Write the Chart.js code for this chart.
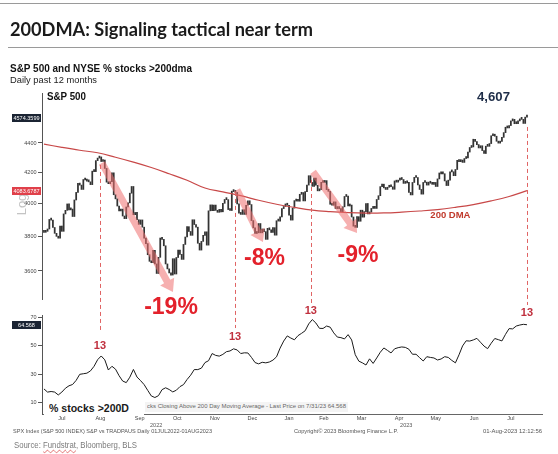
<!DOCTYPE html>
<html>
<head>
<meta charset="utf-8">
<script src="https://cdn.jsdelivr.net/npm/chart.js@4.4.0/dist/chart.umd.min.js"></script>
<style>
body { margin: 0; background: #fff; }
#wrap { position: relative; width: 558px; height: 454px; overflow: hidden; font-family: "Liberation Sans", Arial, sans-serif; }
#wrap canvas { position: absolute; left: 0; top: 0; }
.t { position: absolute; white-space: nowrap; line-height: 1; transform-origin: 0 0; }
.rule { position: absolute; height: 1px; background: #9a9a9a; }
.box { position: absolute; }
.nar { font-family: "Liberation Sans Narrow", "Liberation Sans", Arial, sans-serif; }
</style>
</head>
<body>
<div id="wrap">
<canvas id="c" width="558" height="454"></canvas>

<div class="rule" style="left:0;top:3px;width:558px"></div>
<div class="t" data-w="303" style="left:10px;top:20px;font-family:Lato;font-weight:bold;font-size:18px;color:#1b1b1b">200DMA: Signaling tactical near term</div>
<div class="rule" style="left:8px;top:47px;width:550px"></div>

<div class="t nar" data-w="182" style="left:10px;top:62.5px;font-size:10.5px;font-weight:bold;color:#111">S&amp;P 500 and NYSE % stocks &gt;200dma</div>
<div class="t" data-w="87" style="left:10px;top:76.3px;font-size:9px;color:#222">Daily past 12 months</div>

<div class="t nar" data-w="39" style="left:47px;top:92px;font-size:10.3px;font-weight:bold;color:#111">S&amp;P 500</div>
<div class="t nar" data-w="33" style="left:477px;top:91px;font-size:12.6px;font-weight:bold;color:#1e2d48">4,607</div>

<div class="box" style="left:44px;top:400px;width:100px;height:15px;background:#fff"></div>
<div class="t nar" data-w="80" style="left:49px;top:402.6px;font-size:10.7px;font-weight:bold;color:#1a1a1a">% stocks &gt;200D</div>
<div class="box" style="left:145px;top:402px;width:203px;height:10px;background:#f4f4f4"></div>
<div class="t" data-w="199" style="left:147px;top:404.3px;font-size:5.5px;color:#666">cks Closing Above 200 Day Moving Average - Last Price on 7/31/23 64.568</div>

<div class="t" data-w="199" style="left:13px;top:429.3px;font-size:5.5px;color:#555">SPX Index (S&amp;P 500 INDEX) S&amp;P vs TRADPAUS  Daily 01JUL2022-01AUG2023</div>
<div class="t" data-w="104" style="left:294px;top:429.3px;font-size:5.5px;color:#555">Copyright© 2023 Bloomberg Finance L.P.</div>
<div class="t" data-w="59" style="left:483px;top:429.3px;font-size:5.5px;color:#555">01-Aug-2023 12:12:56</div>

<div class="t" data-w="123" style="left:14px;top:440.5px;font-size:9.3px;color:#7b7b7b">Source: <span style="text-decoration:underline wavy #d66">Fundstrat</span>, Bloomberg, BLS</div>
</div>

<script>
// S&P 500 daily closes, 01-Jul-2022 .. 31-Jul-2023 (trading day index 0..270)
const spxClose = [
  3825,3831,3845,3903,3899,3854,3819,3801,3790,3863,3831,3937,3959,3999,3962,3967,3921,4024,4072,4130,
  4119,4091,4155,4152,4145,4140,4122,4210,4207,4280,4297,4305,4274,4284,4228,4138,4128,4141,4199,4057,4031,3986,3955,
  3967,3924,3908,3980,4006,4067,4110,3932,3946,3901,3873,3900,3856,3790,3758,3693,3655,3647,3719,3640,3586,
  3678,3791,3783,3745,3640,3612,3589,3577,3670,3583,3677,3720,3695,3666,3753,3797,3859,3830,3807,3901,3872,
  3856,3760,3720,3771,3807,3828,3749,3956,3993,3957,3992,3959,3947,3965,3950,4003,4027,4026,3964,3958,4080,
  4077,4072,3999,3941,3934,3963,3934,3991,4019,3995,3896,3852,3818,3822,3878,3822,3845,3829,3783,3849,3840,
  3824,3853,3808,3895,3893,3919,3970,3983,3999,3991,3929,3899,3973,4020,4017,4016,4060,4071,4018,4077,
  4119,4180,4136,4111,4164,4118,4082,4090,4137,4136,4148,4090,4079,3997,3991,4012,3970,3982,3970,
  3951,3981,4046,4048,3986,3992,3918,3862,3855,3920,3892,3960,3917,3951,4002,3937,3948,3971,3977,3971,4027,4051,4109,
  4125,4101,4091,4105,4109,4108,4092,4146,4138,4151,4155,4155,4130,4133,4137,4072,4056,4136,4169,
  4168,4120,4091,4061,4136,4138,4119,4138,4131,4124,4136,4110,4159,4198,4192,4193,4146,4116,4151,4205,4206,4180,
  4221,4282,4273,4284,4268,4294,4299,4338,4369,4373,4426,4410,4389,4366,4381,4348,4328,4378,4377,4396,4450,
  4456,4447,4412,4399,4410,4439,4472,4510,4505,4522,4555,4566,4535,4536,4555,4567,4566,4537,4582,4589
];

// 200 day moving average, every 10 trading days
const dmaStep = 10;
const dma200 = [4392,4370,4350,4333,4303,4270,4234,4193,4150,4100,4075,4051,4022,3997,3977,3960,3951,3945,3942,3943,3948,3955,3964,3978,3995,4018,4046,4083];

// NYSE % stocks above 200dma, every 2 trading days
const breadthStep = 2;
const breadth = [
  19.8,17.6,18.0,17.6,15.6,17.6,20.3,22.0,22.9,25.8,
  30.0,30.4,30.8,32.4,35.6,40.2,42.8,40.1,33.0,35.6,
  33.6,29.0,25.3,24.2,28.0,33.4,28.1,25.6,22.8,18.8,
  14.9,13.8,15.1,19.3,20.6,19.4,17.7,18.9,21.4,22.8,
  26.4,29.4,33.3,33.3,34.3,38.2,39.5,44.5,43.2,42.7,
  43.9,45.8,46.3,47.8,47.0,44.5,45.0,44.9,41.8,38.2,
  37.3,38.4,38.0,38.6,39.9,42.2,48.3,53.2,56.8,55.3,
  54.1,57.0,58.6,60.4,65.2,68.2,65.8,62.1,62.0,63.7,
  62.9,58.9,56.0,55.6,54.7,57.7,54.0,43.7,39.2,38.0,
  36.5,40.8,37.6,41.4,45.4,48.4,46.7,44.9,47.8,48.6,
  49.1,48.8,47.5,44.0,44.0,41.6,39.3,42.3,41.8,41.4,
  40.0,40.7,42.3,41.8,39.7,38.0,43.6,49.8,53.4,53.2,
  54.0,55.1,52.4,49.7,47.9,51.7,55.0,54.2,53.3,57.9,
  61.9,61.7,63.7,64.4,64.9,64.6
];

// axis ticks
const monthTicks = [10,31.5,53.5,74.5,95.5,116.5,137,156.5,177.5,198.5,219,240.5,261];
const monthNames = ["Jul","Aug","Sep","Oct","Nov","Dec","Jan","Feb","Mar","Apr","May","Jun","Jul"];
const yearCenters = [62.7,202.5];
const yearNames = ["2022","2023"];
const spxTicks = [3600,3800,4000,4200,4400];
const pctTicks = [10,20,30,40,50,60,70];

// last value tags on the axes
const spxTags = [4574.3599, 4083.6787];
const pctTags = [64.568];

// annotations
const peakDays = [31.3,106.8,149.2,270];
const peakTops = [4251,4075,4152,4512];
const peakBottoms = [59.5,62.3,79.1,78.4];
const peakLabelAt = [49.8,56.0,74.5,72.8];
const peakLabels = ["13","13","13","13"];
const arrowFrom = [[32.4,4264],[107.9,4088],[150.4,4205]];
const arrowTo = [[72.1,3483],[122.4,3767],[175,3821]];
const ddText = ["-19%","-8%","-9%"];
const ddDay = [71,123.3,175.5];
const ddLevel = [3400,3671,3686];

function drawArrow(ctx, x0, y0, x1, y1) {
  const a = Math.atan2(y1 - y0, x1 - x0);
  const len = Math.hypot(x1 - x0, y1 - y0);
  ctx.save();
  ctx.translate(x0, y0);
  ctx.rotate(a);
  ctx.beginPath();
  ctx.moveTo(0, -3.5);
  ctx.lineTo(len - 12, -3.5);
  ctx.lineTo(len - 12, -8);
  ctx.lineTo(len, 0);
  ctx.lineTo(len - 12, 8);
  ctx.lineTo(len - 12, 3.5);
  ctx.lineTo(0, 3.5);
  ctx.closePath();
  ctx.fill();
  ctx.restore();
}

const overlay = {
  id: "overlay",
  afterDatasetsDraw(chart) {
    const ctx = chart.ctx;
    const x = chart.scales.x, y = chart.scales.y, y2 = chart.scales.y2;
    const area = chart.chartArea;
    ctx.save();

    // upper axis line
    ctx.strokeStyle = "#555";
    ctx.lineWidth = 1;
    ctx.beginPath();
    ctx.moveTo(area.left + 0.5, area.top - 12);
    ctx.lineTo(area.left + 0.5, y.getPixelForValue(3440));
    ctx.stroke();

    // pink arrows
    ctx.fillStyle = "rgba(238,112,112,0.55)";
    for (let i = 0; i < arrowFrom.length; i++) {
      drawArrow(ctx,
        x.getPixelForValue(arrowFrom[i][0]), y.getPixelForValue(arrowFrom[i][1]),
        x.getPixelForValue(arrowTo[i][0]), y.getPixelForValue(arrowTo[i][1]));
    }

    // dashed markers + "13"
    ctx.strokeStyle = "#e06464";
    ctx.setLineDash([4, 3]);
    for (let i = 0; i < peakDays.length; i++) {
      const px = Math.round(x.getPixelForValue(peakDays[i])) + 0.5;
      ctx.beginPath();
      ctx.moveTo(px, y.getPixelForValue(peakTops[i]));
      ctx.lineTo(px, y2.getPixelForValue(peakBottoms[i]));
      ctx.stroke();
    }
    ctx.setLineDash([]);
    ctx.fillStyle = "#c0303e";
    ctx.font = "bold 11px 'Liberation Sans', Arial";
    ctx.textAlign = "center";
    ctx.textBaseline = "middle";
    for (let i = 0; i < peakDays.length; i++) {
      ctx.fillText(peakLabels[i], x.getPixelForValue(peakDays[i]), y2.getPixelForValue(peakLabelAt[i]));
    }

    // drawdown labels
    ctx.fillStyle = "#e3212b";
    ctx.font = "bold 23px 'Liberation Sans', Arial";
    for (let i = 0; i < ddText.length; i++) {
      ctx.fillText(ddText[i], x.getPixelForValue(ddDay[i]), y.getPixelForValue(ddLevel[i]));
    }

    // 200 DMA label
    ctx.fillStyle = "#c0392b";
    ctx.font = "bold 9.5px 'Liberation Sans Narrow', 'Liberation Sans', Arial";
    ctx.fillText("200 DMA", x.getPixelForValue(227.2), y.getPixelForValue(3927));

    // "Log" axis caption
    ctx.save();
    ctx.translate(22, (area.top + y.getPixelForValue(3440)) / 2 + 2);
    ctx.rotate(-Math.PI / 2);
    ctx.fillStyle = "#c4c4c4";
    ctx.font = "13px 'Liberation Sans', Arial";
    ctx.fillText("Log", 0, 0);
    ctx.restore();

    // last value tags
    const tag = (py, text, color) => {
      ctx.fillStyle = color;
      ctx.fillRect(area.left - 30, Math.round(py) - 4, 29, 8);
      ctx.fillStyle = "#fff";
      ctx.font = "5.5px 'Liberation Sans', Arial";
      ctx.fillText(text, area.left - 15.5, Math.round(py) + 0.3);
    };
    tag(y.getPixelForValue(spxTags[0]), spxTags[0].toFixed(4), "#1b2433");
    tag(y.getPixelForValue(spxTags[1]), spxTags[1].toFixed(4), "#e0404a");
    tag(y2.getPixelForValue(pctTags[0]), pctTags[0].toFixed(3), "#1b2433");

    // year labels
    ctx.fillStyle = "#555";
    ctx.font = "5.5px 'Liberation Sans', Arial";
    for (let i = 0; i < yearNames.length; i++) {
      ctx.fillText(yearNames[i], x.getPixelForValue(yearCenters[i]), area.bottom + 11);
    }
    ctx.restore();
  }
};

const tickFont = { family: "'Liberation Sans', Arial", size: 5.5 };

new Chart(document.getElementById("c"), {
  data: {
    datasets: [
      {
        type: "line",
        label: "% stocks >200D",
        data: breadth.map((v, i) => ({ x: i * breadthStep, y: v })),
        yAxisID: "y2",
        borderColor: "#1a1a1a",
        borderWidth: 1,
        pointRadius: 0
      },
      {
        type: "line",
        label: "200 DMA",
        data: dma200.map((v, i) => ({ x: i * dmaStep, y: v })),
        yAxisID: "y",
        borderColor: "#c84848",
        borderWidth: 1.2,
        pointRadius: 0,
        tension: 0.4
      },
      {
        type: "bar",
        label: "S&P 500",
        data: spxClose.map((c, i) => ({ x: i, y: [i ? spxClose[i - 1] : c, c] })),
        yAxisID: "y",
        backgroundColor: "#333333",
        barThickness: 1.1,
        minBarLength: 2
      }
    ]
  },
  options: {
    responsive: false,
    animation: false,
    devicePixelRatio: 1,
    layout: { padding: { top: 105, left: 12, right: 16, bottom: 28 } },
    plugins: { legend: { display: false }, tooltip: { enabled: false } },
    scales: {
      x: {
        type: "linear",
        min: -1.1,
        max: 278.4,
        offset: false,
        grid: { display: false, drawTicks: false, offset: false },
        border: { color: "#666" },
        afterBuildTicks: s => { s.ticks = monthTicks.map(v => ({ value: v })); },
        afterFit: s => { s.height = 12; },
        ticks: {
          autoSkip: false, maxRotation: 0, padding: 1.5,
          font: tickFont, color: "#444",
          callback: (v, i) => monthNames[i]
        }
      },
      y: {
        type: "logarithmic",
        position: "left",
        stack: "panels",
        stackWeight: 210,
        weight: 1,
        min: 3360,
        max: 4670,
        border: { display: false },
        grid: { drawOnChartArea: false, tickLength: 4, color: "#555" },
        afterBuildTicks: s => { s.ticks = spxTicks.map(v => ({ value: v })); },
        afterFit: s => { s.width = 30; },
        ticks: { font: tickFont, color: "#444", padding: 1.5, callback: v => String(v) }
      },
      y2: {
        type: "linear",
        position: "left",
        stack: "panels",
        stackWeight: 99,
        weight: 0,
        min: 2.3,
        max: 71.4,
        border: { color: "#555" },
        grid: { drawOnChartArea: false, tickLength: 4, color: "#555" },
        afterBuildTicks: s => { s.ticks = pctTicks.map(v => ({ value: v })); },
        afterFit: s => { s.width = 30; },
        ticks: { font: tickFont, color: "#444", padding: 1.5, callback: v => String(v) }
      }
    }
  },
  plugins: [overlay]
});

// squeeze the html texts to the widths they take in the picture
document.fonts.ready.then(() => {
  document.querySelectorAll(".t[data-w]").forEach(el => {
    el.style.transform = "";
    const w = el.getBoundingClientRect().width;
    el.style.transform = "scaleX(" + (el.dataset.w / w) + ")";
  });
});
</script>
</body>
</html>
